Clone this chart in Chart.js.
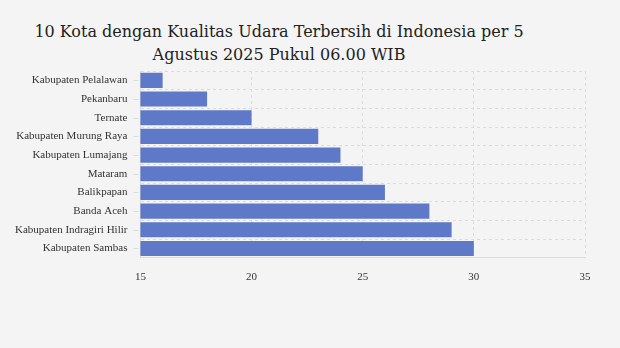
<!DOCTYPE html>
<html>
<head>
<meta charset="utf-8">
<script src="https://cdn.jsdelivr.net/npm/chart.js@4/dist/chart.umd.min.js"></script>
<style>
  html, body { margin: 0; padding: 0; background: #f4f4f4; }
  #wrap { position: relative; width: 620px; height: 348px; }
  #title {
    position: absolute; left: 0; top: 20px; width: 558px;
    text-align: center; font-family: "DejaVu Serif", serif; font-size: 16px;
    line-height: 23px; color: #222;
  }
  canvas { position: absolute; left: 0; top: 0; }
</style>
</head>
<body>
<div id="wrap">
  <div id="title">10 Kota dengan Kualitas Udara Terbersih di Indonesia per 5<br>Agustus 2025 Pukul 06.00 WIB</div>
  <canvas id="c" width="620" height="348"></canvas>
</div>
<script>
const cities = [
  "Kabupaten Pelalawan", "Pekanbaru", "Ternate", "Kabupaten Murung Raya",
  "Kabupaten Lumajang", "Mataram", "Balikpapan", "Banda Aceh",
  "Kabupaten Indragiri Hilir", "Kabupaten Sambas"
];
const aqiValues = [16, 18, 20, 23, 24, 25, 26, 28, 29, 30];
const xTicks = [15, 20, 25, 30, 35];

const gridColor = "#dcdcdc";

// short tick marks at each category centre on the y axis
const yTickMarks = {
  id: "yTickMarks",
  afterDraw(chart) {
    const y = chart.scales.y;
    const ctx = chart.ctx;
    ctx.save();
    ctx.strokeStyle = gridColor;
    ctx.lineWidth = 1;
    for (let i = 0; i < cities.length; i++) {
      const py = Math.round(y.getPixelForTick(i)) + 0.5;
      ctx.beginPath();
      ctx.moveTo(y.right - 7, py);
      ctx.lineTo(y.right - 2, py);
      ctx.stroke();
    }
    ctx.restore();
  }
};

new Chart(document.getElementById("c"), {
  type: "bar",
  data: {
    labels: cities,
    datasets: [{
      data: aqiValues,
      backgroundColor: "#5f79c9",
      borderWidth: 0,
      categoryPercentage: 0.9,
      barPercentage: 0.9
    }]
  },
  plugins: [yTickMarks],
  options: {
    indexAxis: "y",
    responsive: false,
    animation: false,
    layout: { padding: { top: 71, right: 35, bottom: 51, left: 2 } },
    plugins: { legend: { display: false }, tooltip: { enabled: false }, title: { display: false } },
    scales: {
      x: {
        min: 15, max: 35,
        afterBuildTicks(scale) { scale.ticks = xTicks.map(v => ({ value: v })); },
        grid: { color: gridColor, drawTicks: false, tickLength: 0 },
        border: { display: true, color: gridColor, dash: [3, 3] },
        ticks: { padding: 13, color: "#333", font: { family: "Liberation Serif", size: 11 } }
      },
      y: {
        grid: { color: gridColor, drawTicks: false, offset: true },
        border: { display: true, color: gridColor, dash: [3, 3] },
        ticks: { padding: 13, color: "#333", font: { family: "Liberation Serif", size: 11 } }
      }
    }
  }
});
</script>
</body>
</html>
